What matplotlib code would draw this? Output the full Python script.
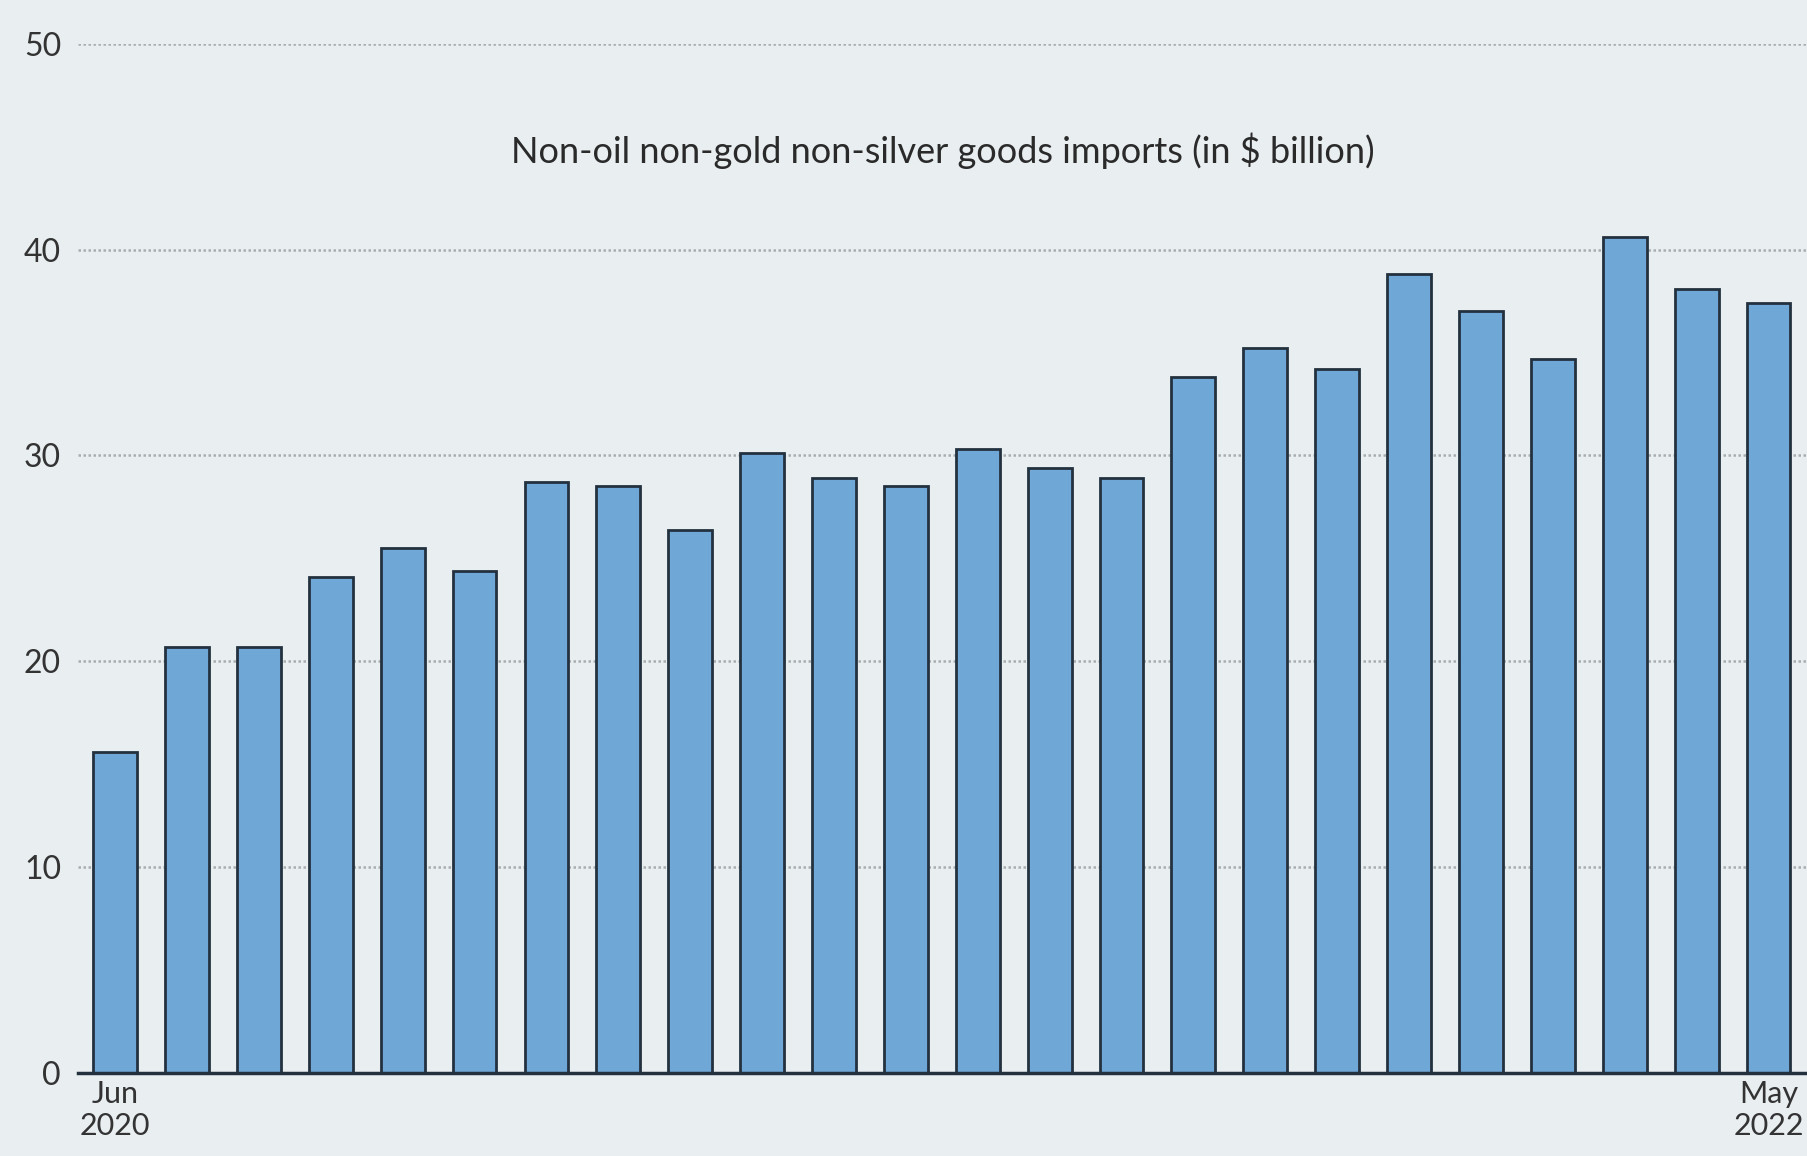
import numpy as np
import matplotlib.pyplot as plt

# Monthly non-oil non-gold non-silver goods imports, Jun 2020 - May 2022
months = ["Jun 2020", "Jul 2020", "Aug 2020", "Sep 2020", "Oct 2020", "Nov 2020",
          "Dec 2020", "Jan 2021", "Feb 2021", "Mar 2021", "Apr 2021", "May 2021",
          "Jun 2021", "Jul 2021", "Aug 2021", "Sep 2021", "Oct 2021", "Nov 2021",
          "Dec 2021", "Jan 2022", "Feb 2022", "Mar 2022", "Apr 2022", "May 2022"]
imports = [15.6, 20.7, 20.7, 24.1, 25.5, 24.4, 28.7, 28.5, 26.4, 30.1, 28.9, 28.5,
           30.3, 29.4, 28.9, 33.8, 35.2, 34.2, 38.8, 37.0, 34.7, 40.6, 38.1, 37.4]
tick_pos = [0, 23]
tick_labels = ["Jun\n2020", "May\n2022"]
yticks = [0, 10, 20, 30, 40, 50]

plt.rcParams['font.family'] = ['Lato', 'DejaVu Sans']

bg = '#e9eef1'
fig = plt.figure(figsize=(18.08, 11.56), dpi=100, facecolor=bg)
ax = fig.add_axes([0.043, 0.072, 0.957, 0.89], facecolor=bg)

x = np.arange(len(imports))
ax.bar(x, imports, width=0.61, color='#6fa7d7', edgecolor='#23313f', linewidth=2, zorder=3)

ax.set_ylim(0, 50)
ax.set_xlim(-0.52, 23.55)
ax.set_yticks(yticks)
ax.set_yticklabels([str(v) for v in yticks], fontsize=23, color='#333333')
ax.yaxis.grid(True, linestyle=(0, (1, 1)), color='#a9adb0', linewidth=1.8, zorder=0)
ax.tick_params(axis='y', length=0, pad=12)

ax.set_xticks(tick_pos)
ax.set_xticklabels(tick_labels, fontsize=22, color='#333333', linespacing=1.2)
ax.tick_params(axis='x', length=0, pad=5)

for s in ['top', 'right', 'left']:
    ax.spines[s].set_visible(False)
ax.spines['bottom'].set_color('#23313f')
ax.spines['bottom'].set_linewidth(2.5)
ax.spines['bottom'].set_zorder(4)

ax.text(0.5, 44.8, "Non-oil non-gold non-silver goods imports (in $ billion)",
        transform=ax.get_yaxis_transform(), ha='center', va='center',
        fontsize=26, color='#2a2a2a')

fig.savefig('out.png', dpi=100, facecolor=bg)
